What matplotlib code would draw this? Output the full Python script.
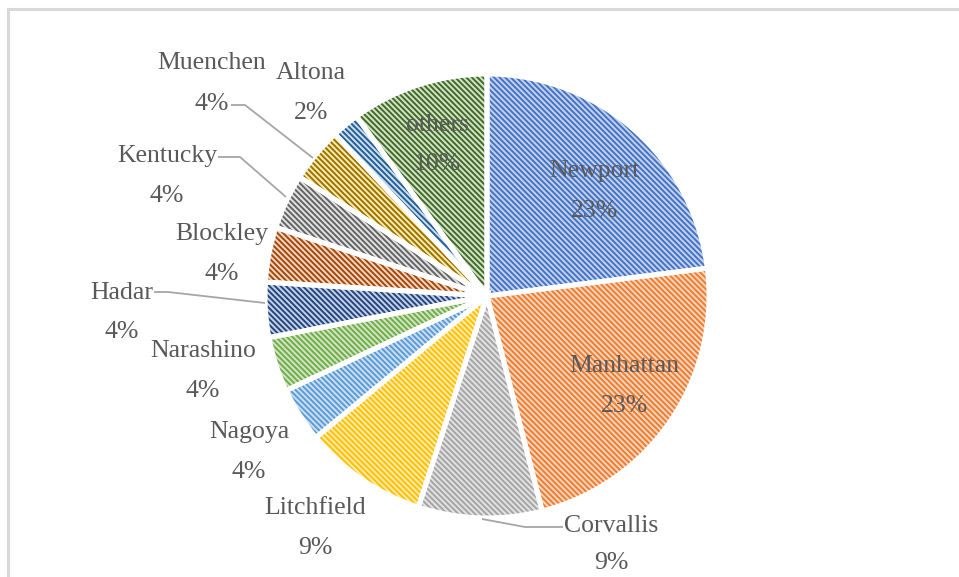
import matplotlib
matplotlib.use("Agg")
import matplotlib.pyplot as plt
from matplotlib.patches import Rectangle
from matplotlib.colors import to_rgb

# shares by site, clockwise from 12 o'clock
sites = ["Newport", "Manhattan", "Corvallis", "Litchfield", "Nagoya",
         "Narashino", "Hadar", "Blockley", "Kentucky", "Muenchen",
         "Altona", "others"]
shares = [23, 23, 9, 9, 4, 4, 4, 4, 4, 4, 2, 10]

# office palette: base tones and their darker shades
base_colors = ["#4472C4", "#ED7D31", "#A5A5A5", "#FFC000", "#5B9BD5",
               "#70AD47", "#4472C4", "#ED7D31", "#A5A5A5", "#FFC000",
               "#5B9BD5", "#70AD47"]
stripe_colors = ["#4472C4", "#ED7D31", "#A5A5A5", "#FFC000", "#5B9BD5",
                 "#70AD47", "#264478", "#9E480E", "#636363", "#997300",
                 "#255E91", "#43682B"]

# label layout in pixels (x, y from top) for name and percent lines
label_pos = [(594, 171), (624, 366), (611, 526), (315, 508), (249, 432),
             (203, 351), (122, 293), (222, 234), (167, 156), (212, 63),
             (311, 73), (437, 125)]
pct_gap = [40, 40, 37, 40, 40, 40, 39, 40, 40, 41, 40, 39]

# leader lines for the outside labels
leaders = {
    "Muenchen": [(231, 105), (245, 105), (313, 158)],
    "Kentucky": [(218, 157), (240, 157), (286, 197)],
    "Hadar": [(154, 292), (168, 292), (265, 303)],
    "Corvallis": [(482, 519), (525, 527), (563, 527)],
}

W, H = 959, 577
CX, CY, R = 487, 296, 222


def tint(color, amount):
    r, g, b = to_rgb(color)
    return (r + (1 - r) * amount, g + (1 - g) * amount, b + (1 - b) * amount)


def main():
    plt.rcParams["hatch.linewidth"] = 1.4
    fig = plt.figure(figsize=(W / 100, H / 100), dpi=100)
    ax = fig.add_axes([0, 0, 1, 1])

    faces = [tint(c, 0.68) for c in base_colors]
    wedges, _ = ax.pie(shares, startangle=90, counterclock=False,
                       center=(CX, H - CY), radius=R, colors=faces,
                       hatch="\\\\\\\\\\\\", wedgeprops=dict(linewidth=0))
    for w, c in zip(wedges, stripe_colors):
        w.set_edgecolor(c)
        w.set_linewidth(0)

    # white borders between slices
    ax.pie(shares, startangle=90, counterclock=False,
           center=(CX, H - CY), radius=R, colors=["none"] * len(shares),
           wedgeprops=dict(edgecolor="white", linewidth=3.6))

    ax.set_xlim(0, W)
    ax.set_ylim(0, H)
    ax.axis("off")

    for name, pts in leaders.items():
        xs = [p[0] for p in pts]
        ys = [H - p[1] for p in pts]
        ax.plot(xs, ys, color="#A6A6A6", lw=1.3, solid_capstyle="butt")

    font = dict(family="Liberation Serif", size=18.5, color="#595959",
                ha="center", va="center")
    for name, val, (x, y), gap in zip(sites, shares, label_pos, pct_gap):
        ax.text(x, H - y, name, **font)
        ax.text(x, H - y - gap, f"{val}%", **font)

    # chart area border
    ax.add_patch(Rectangle((8, -20), W + 20, H - 9 + 20, fill=False,
                           edgecolor="#D9D9D9", lw=2.2))

    fig.savefig("out.png", dpi=100)


if __name__ == "__main__":
    main()
